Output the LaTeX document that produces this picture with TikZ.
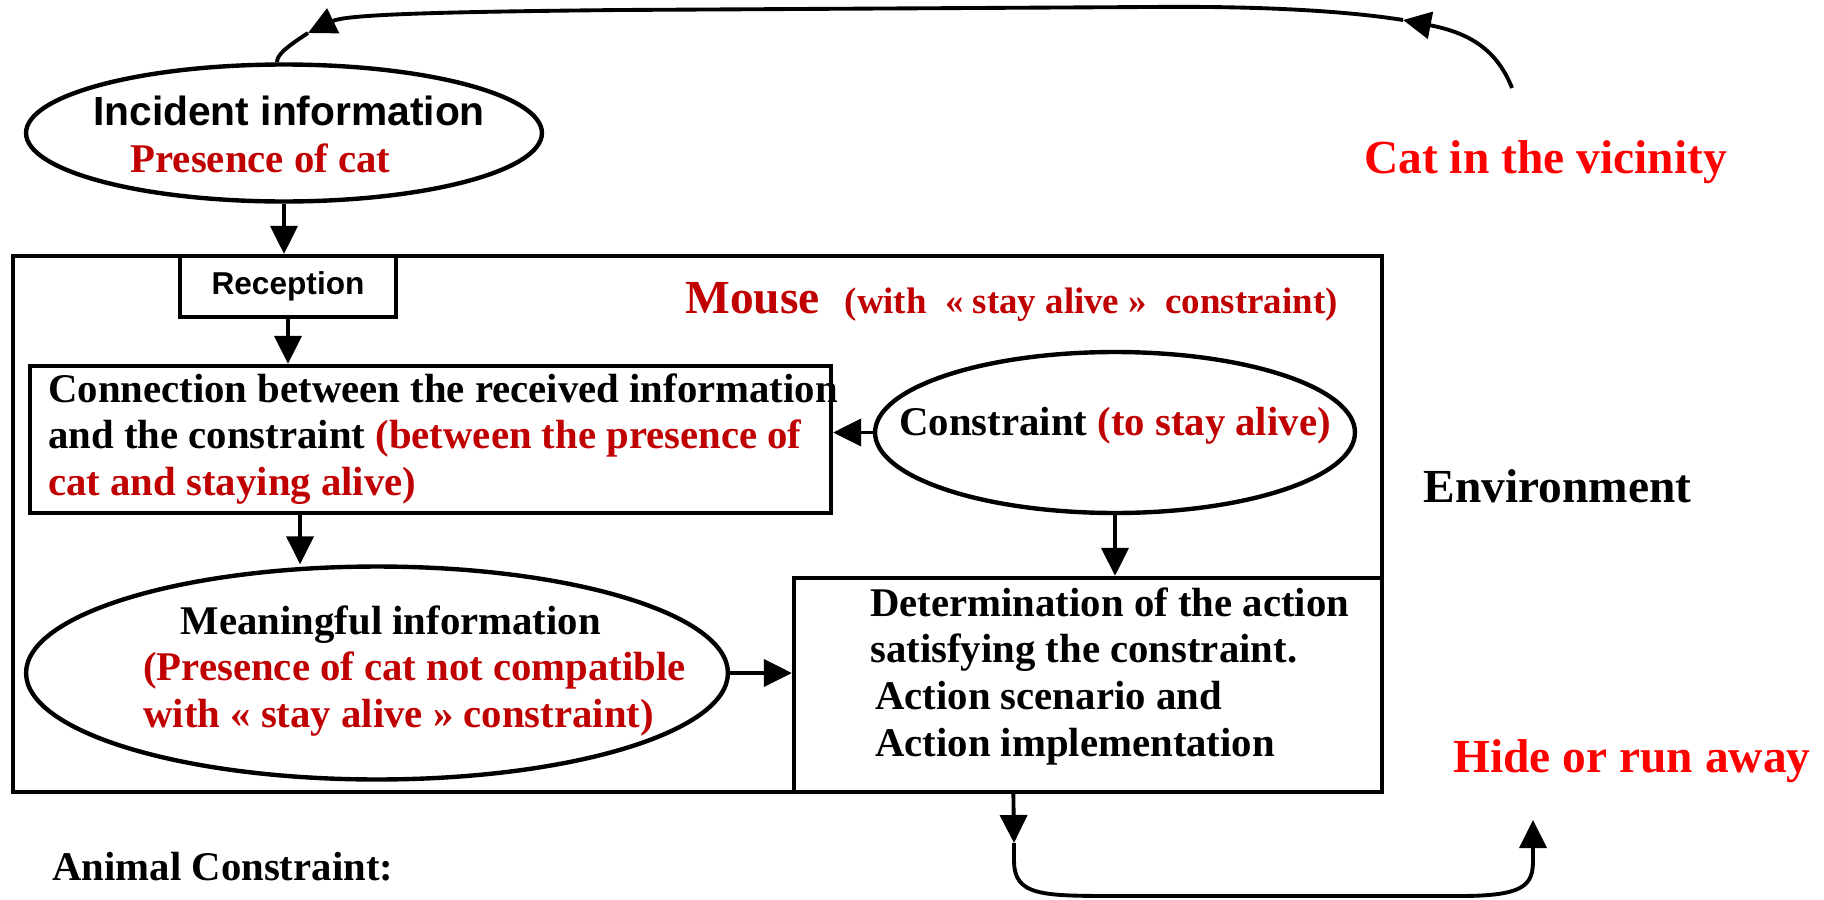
\documentclass[tikz,border=0pt]{standalone}
\usepackage{fontspec}
\setmainfont{Liberation Serif}
\setsansfont{Liberation Sans}
\usepackage{xcolor}
\definecolor{darkred}{RGB}{192,0,0}
\definecolor{brightred}{RGB}{255,0,0}
\usetikzlibrary{positioning}
\usetikzlibrary{arrows.meta}
\usetikzlibrary{shapes,calc}

\newcommand{\bodyfont}{\fontsize{23.2}{26.6}\selectfont\bfseries}
\newcommand{\bigfont}{\fontsize{27}{32}\selectfont\bfseries}

\begin{document}
\begin{tikzpicture}[x=0.02cm,y=-0.02cm]
	\useasboundingbox (0,0) rectangle (1824,899);

	% free texts
	\begin{scope}[every node/.style={inner sep=0pt, font=\bodyfont, align=left}]
	    \node[anchor=north, align=center] (inctxt) at (289,96) {{\sffamily Incident information}\\\textcolor{darkred}{Presence of cat}\hspace*{1.4em}};
	    \node[anchor=base] (constrtxt) at (1115,435) {Constraint \textcolor{darkred}{(to stay alive)}};
	    \node[anchor=north west] (connecttxt) at (48,373) {Connection between the received information\\and the constraint \textcolor{darkred}{(between the presence of}\\\textcolor{darkred}{cat and staying alive)}};
	    \node[anchor=north west] (meantxt) at (143,605) {\hspace*{0.92em}Meaningful information\\\textcolor{darkred}{(Presence of cat not compatible}\\\textcolor{darkred}{with « stay alive » constraint)}};
	    \node[anchor=north west] (dettxt) at (870,587) {Determination of the action\\satisfying the constraint.\\\hspace*{0.12em}Action scenario and\\\hspace*{0.12em}Action implementation};
	    \node[anchor=base west] (mouselbl) at (685,313) {\textcolor{darkred}{\bigfont Mouse\hspace{0.5cm}{\fontsize{21}{24}\selectfont(with\ \ «~stay alive~»\ \ constraint)}}};
	    \node[anchor=base west, font=\bigfont] (envlbl) at (1423,502) {Environment};
	    \node[anchor=base west, font=\bigfont, text=brightred] (catlbl) at (1364,173) {Cat in the vicinity};
	    \node[anchor=base west, font=\bigfont, text=brightred] (hidelbl) at (1453,772) {Hide or run away};
	    \node[anchor=base west] (animlbl) at (52,880) {Animal Constraint:};
	\end{scope}

	% boxes and ellipses
	\begin{scope}[every node/.style={draw, line width=2.5pt, inner sep=0pt}]
	    \node[rectangle, minimum width=27.38cm, minimum height=10.72cm] (mouse) at (697.5,524) {};
	    \node[ellipse, minimum width=10.32cm, minimum height=2.74cm] (inc) at (284,133) {};
	    \node[rectangle, minimum width=4.32cm, minimum height=1.22cm, font=\fontsize{18}{20}\selectfont\sffamily\bfseries] (recep) at (288,286.5) {Reception};
	    \node[rectangle, minimum width=16.02cm, minimum height=2.94cm] (connect) at (430.5,439.5) {};
	    \node[ellipse, minimum width=9.6cm, minimum height=3.22cm] (constr) at (1115,432.5) {};
	    \node[ellipse, minimum width=14.04cm, minimum height=4.26cm] (mean) at (377,673) {};
	    \node[rectangle, minimum width=11.76cm, minimum height=4.28cm] (det) at (1088,685) {};
	\end{scope}

	% arrows
	\begin{scope}[>={Triangle[length=0.56cm,width=0.54cm]}, line width=2.2pt]
	    \coordinate (conout) at ($(connect.south west)!0.338!(connect.south east)$);
	    \coordinate (detout) at ($(det.south west)!0.374!(det.south east)$);
	    \coordinate (turn) at (1014,843);
	    \coordinate (hidetip) at (1533,820);
	    \coordinate (catend) at (1512,88);
	    \coordinate (tipA) at (1403,20);
	    \coordinate (tipB) at (308,33);

	    \path [->] (inc.south) edge (inc.south |- mouse.north);
	    \path [->] (recep.south) edge (recep.south |- connect.north);
	    \path [->] (constr.west) edge (constr.west -| connect.east);
	    \path [->] (conout) edge (conout |- mean.north);
	    \path [->] (mean.east) edge (mean.east -| det.west);
	    \path [->] (constr.south) edge (constr.south |- det.north);
	    \path [->] (detout) edge (turn);
	    \draw [->] (turn) -- (1014,860) .. controls (1014,896) and (1040,896) .. (1120,896) -- (1460,896) .. controls (1525,896) and (1533,885) .. (1533,860) -- (hidetip);

	    \draw [->] (catend) .. controls (1497,50) and (1470,33) .. (tipA);
	    \draw [->] (tipA) .. controls (1340,10) and (1250,6) .. (1150,7) -- (620,10) .. controls (420,12) and (345,15) .. (tipB);
	    \draw (tipB) .. controls (285,48) and (277,55) .. ([xshift=-0.14cm]inc.north);
	\end{scope}
\end{tikzpicture}
\end{document}
